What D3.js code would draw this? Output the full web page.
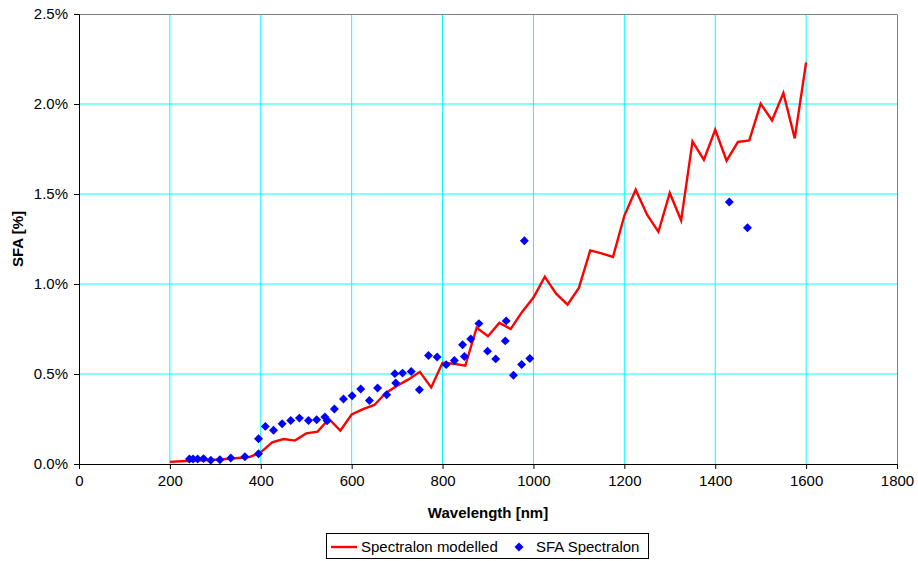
<!DOCTYPE html>
<html>
<head>
<meta charset="utf-8">
<script src="https://cdn.jsdelivr.net/npm/d3@7"></script>
<style>
  body { margin: 0; background: #ffffff; }
  svg { display: block; font-family: "Liberation Sans", Arial, sans-serif; }
</style>
</head>
<body>
<svg id="chart" width="918" height="561"></svg>
<script>
// Modelled spectralon curve (wavelength in nm, SFA in %)
const modelWavelength = [200, 225, 250, 275, 300, 325, 350, 375, 400, 425, 450, 475, 500, 525, 550, 575,
  600, 625, 650, 675, 700, 725, 750, 775, 800, 825, 850, 875, 900, 925, 950, 975, 1000, 1025, 1050, 1075,
  1100, 1125, 1150, 1175, 1200, 1225, 1250, 1275, 1300, 1325, 1350, 1375, 1400, 1425, 1450, 1475, 1500,
  1525, 1550, 1575, 1600];
const modelSFA = [0.012, 0.015, 0.018, 0.021, 0.024, 0.028, 0.033, 0.038, 0.065, 0.12, 0.139, 0.13, 0.17,
  0.18, 0.25, 0.185, 0.275, 0.305, 0.328, 0.395, 0.435, 0.47, 0.512, 0.425, 0.562, 0.557, 0.546, 0.757,
  0.71, 0.784, 0.75, 0.845, 0.925, 1.04, 0.946, 0.885, 0.978, 1.187, 1.17, 1.15, 1.379, 1.524, 1.385, 1.29,
  1.506, 1.353, 1.792, 1.69, 1.857, 1.685, 1.789, 1.798, 2.002, 1.909, 2.061, 1.809, 2.231];

// Measured SFA spectralon samples
const sfaWavelength = [243, 251, 261, 274, 290, 310, 334, 365, 395, 395, 410, 428, 447, 466, 485, 505, 523,
  541, 546, 562, 582, 601, 620, 639, 657, 677, 695, 697, 712, 731, 749, 769, 788, 808, 826, 844, 848, 862,
  880, 899, 917, 938, 940, 956, 974, 980, 992, 1431, 1471];
const sfaValue = [0.028, 0.028, 0.028, 0.03, 0.021, 0.024, 0.033, 0.04, 0.057, 0.14, 0.209, 0.187, 0.224,
  0.242, 0.255, 0.242, 0.246, 0.261, 0.24, 0.306, 0.361, 0.379, 0.417, 0.353, 0.422, 0.385, 0.502, 0.45,
  0.505, 0.514, 0.412, 0.603, 0.594, 0.552, 0.575, 0.663, 0.597, 0.694, 0.78, 0.627, 0.584, 0.684, 0.795,
  0.493, 0.553, 1.24, 0.586, 1.456, 1.313];

const xTicks = [0, 200, 400, 600, 800, 1000, 1200, 1400, 1600, 1800];
const yTicks = [0, 0.5, 1.0, 1.5, 2.0, 2.5];

const seriesNames = ["Spectralon modelled", "SFA Spectralon"];

const svg = d3.select("#chart");
const plot = { left: 79, top: 14, right: 897, bottom: 464 };
const fontSize = 15;

const x = d3.scaleLinear().domain([0, 1800]).range([plot.left, plot.right]);
const y = d3.scaleLinear().domain([0, 2.5]).range([plot.bottom, plot.top]);

// Grid lines
const grid = svg.append("g");
grid.selectAll("line.vx").data(xTicks.filter(d => d > 0 && d < 1800)).join("line")
  .attr("x1", d => x(d)).attr("x2", d => x(d))
  .attr("y1", plot.top).attr("y2", plot.bottom)
  .attr("stroke", "#00ffff").attr("stroke-width", 1);
grid.selectAll("line.hy").data(yTicks.filter(d => d > 0 && d < 2.5)).join("line")
  .attr("x1", plot.left).attr("x2", plot.right)
  .attr("y1", d => y(d)).attr("y2", d => y(d))
  .attr("stroke", "#00ffff").attr("stroke-width", 1);

// Top and right frame
svg.append("path")
  .attr("d", `M${plot.left},${plot.top + 0.5}H${plot.right + 0.5}V${plot.bottom}`)
  .attr("fill", "none").attr("stroke", "#808080").attr("stroke-width", 1);

// Axes
const xAxis = svg.append("g").attr("transform", `translate(0,${plot.bottom})`)
  .call(d3.axisBottom(x).tickValues(xTicks).tickFormat(d3.format("d")).tickSizeOuter(0).tickSize(5).tickPadding(6));
const yAxis = svg.append("g").attr("transform", `translate(${plot.left},0)`)
  .call(d3.axisLeft(y).tickValues(yTicks).tickFormat(d => d.toFixed(1) + "%").tickSizeOuter(0).tickSize(5).tickPadding(6));
[xAxis, yAxis].forEach(a => {
  a.select(".domain").attr("stroke", "#000");
  a.selectAll(".tick line").attr("stroke", "#000");
  a.selectAll(".tick text").attr("font-size", fontSize).attr("fill", "#000")
    .attr("font-family", "'Liberation Sans', Arial, sans-serif");
});

// Modelled line
const line = d3.line().x((d, i) => x(modelWavelength[i])).y(d => y(d));
svg.append("path").datum(modelSFA)
  .attr("d", line)
  .attr("fill", "none").attr("stroke", "#ff0000").attr("stroke-width", 2.4)
  .attr("stroke-linejoin", "miter");

// Measured points as diamonds
const diamond = d3.symbol().type(d3.symbolSquare).size(40);
svg.append("g").selectAll("path").data(sfaValue).join("path")
  .attr("d", diamond)
  .attr("transform", (d, i) => `translate(${x(sfaWavelength[i])},${y(d)}) rotate(45)`)
  .attr("fill", "#0000ff");

// Axis titles
svg.append("text").attr("x", (plot.left + plot.right) / 2).attr("y", 518)
  .attr("text-anchor", "middle").attr("font-size", fontSize).attr("font-weight", "bold")
  .text("Wavelength [nm]");
svg.append("text").attr("transform", `translate(23,${(plot.top + plot.bottom) / 2}) rotate(-90)`)
  .attr("text-anchor", "middle").attr("font-size", fontSize).attr("font-weight", "bold")
  .text("SFA [%]");

// Legend
const legend = svg.append("g");
legend.append("rect").attr("x", 326.5).attr("y", 533.5).attr("width", 322).attr("height", 25)
  .attr("fill", "#fff").attr("stroke", "#000").attr("stroke-width", 1);
legend.append("line").attr("x1", 331).attr("x2", 357).attr("y1", 547).attr("y2", 547)
  .attr("stroke", "#ff0000").attr("stroke-width", 2.4);
legend.append("text").attr("x", 361).attr("y", 552).attr("font-size", fontSize).text(seriesNames[0]);
legend.append("path").attr("d", diamond)
  .attr("transform", "translate(519,547) rotate(45)").attr("fill", "#0000ff");
legend.append("text").attr("x", 536).attr("y", 552).attr("font-size", fontSize).text(seriesNames[1]);
</script>
</body>
</html>
